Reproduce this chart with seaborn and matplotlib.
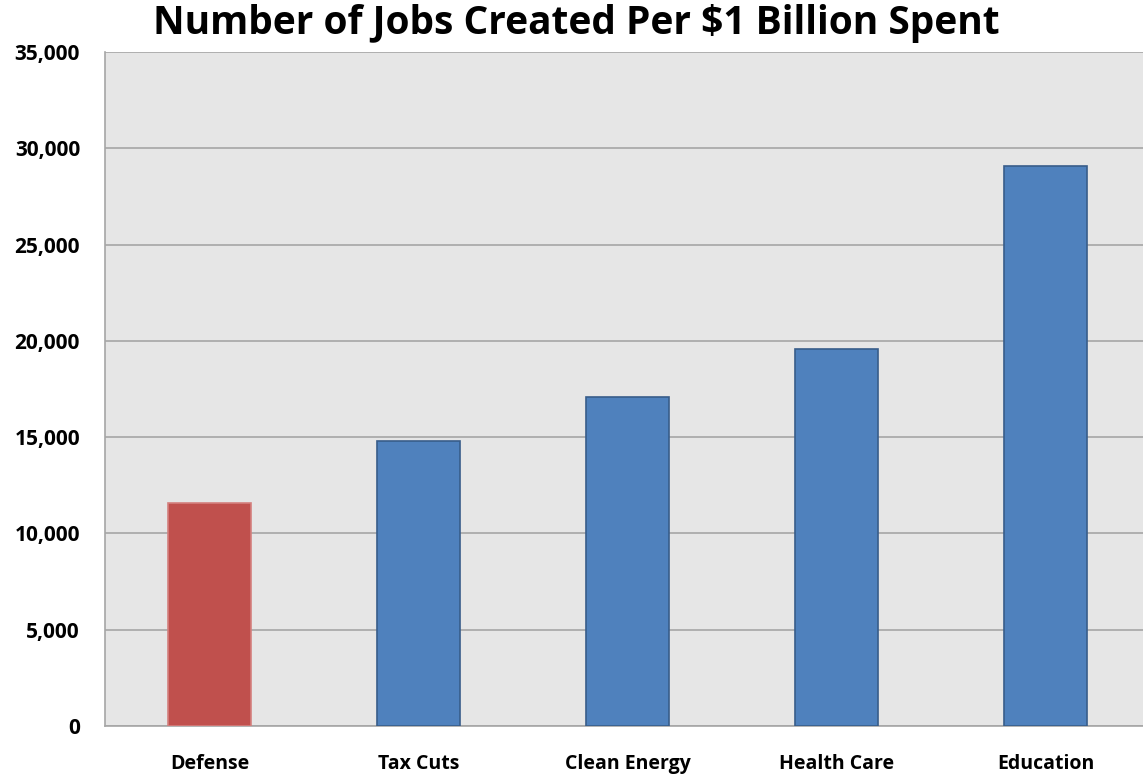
import matplotlib
matplotlib.use('Agg')
import matplotlib.pyplot as plt
import seaborn as sns
import pandas as pd
from matplotlib.ticker import FuncFormatter, FixedLocator

# Данные графика
categories = ['Defense', 'Tax Cuts', 'Clean Energy', 'Health Care', 'Education']
jobs = [11600, 14800, 17100, 19600, 29100]
bar_colors = ['#c0504d', '#4f81bd', '#4f81bd', '#4f81bd', '#4f81bd']
edge_colors = ['#d4807e', '#385d8a', '#385d8a', '#385d8a', '#385d8a']

df = pd.DataFrame({'category': categories, 'jobs': jobs})

sns.set_style('white')
plt.rcParams['font.family'] = ['Open Sans', 'DejaVu Sans']
plt.rcParams['text.color'] = 'black'
plt.rcParams['xtick.labelcolor'] = 'black'
plt.rcParams['ytick.labelcolor'] = 'black'

fig = plt.figure(figsize=(11.43, 7.80), dpi=100)
ax = fig.add_axes([105 / 1143, 1 - 726 / 780, 1045 / 1143, 674 / 780])
ax.set_facecolor('#e6e6e6')

sns.barplot(data=df, x='category', y='jobs', hue='category',
            palette=dict(zip(categories, bar_colors)), width=0.4,
            saturation=1, legend=False, ax=ax, zorder=3)
for patch, ec in zip(ax.patches, edge_colors):
    patch.set_edgecolor(ec)
    patch.set_linewidth(1.2)

ax.set_xlim(-0.5, len(categories) - 0.5)
ax.set_ylim(0, 35000)
ax.set_yticks(range(0, 35001, 5000))
ax.yaxis.set_major_formatter(FuncFormatter(lambda v, p: f'{int(v):,}'))
ax.grid(axis='y', color='#a6a6a6', linewidth=1.2, zorder=0)
ax.set_axisbelow(True)

# Деления по x на границах категорий
ax.xaxis.set_minor_locator(FixedLocator([i - 0.5 for i in range(len(categories) + 1)]))
ax.tick_params(axis='x', which='major', length=0, pad=20, labelsize=14)
ax.tick_params(axis='x', which='minor', length=7, color='#a6a6a6', width=1.2, direction='out')
ax.tick_params(axis='y', length=8, color='#a6a6a6', width=1.2, labelsize=15, pad=10)
for lbl in ax.get_xticklabels() + ax.get_yticklabels():
    lbl.set_fontweight('bold')

for side in ['top', 'right']:
    ax.spines[side].set_visible(False)
for side in ['left', 'bottom']:
    ax.spines[side].set_color('#a6a6a6')
    ax.spines[side].set_linewidth(1.2)

ax.set_xlabel('')
ax.set_ylabel('')
fig.text(0.504, 0.97, 'Number of Jobs Created Per $1 Billion Spent',
         ha='center', va='center', fontsize=28, fontweight='bold', color='black')

fig.savefig('out.png', dpi=100)
